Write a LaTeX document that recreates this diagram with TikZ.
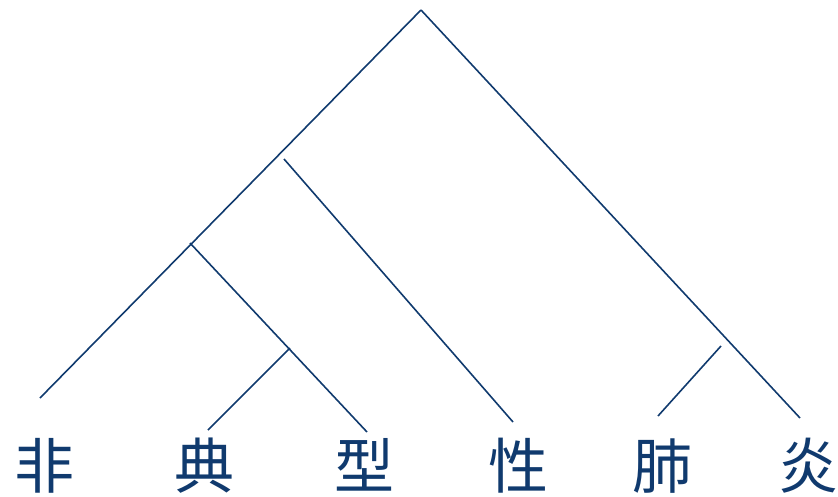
\documentclass[tikz,border=0pt]{standalone}
\usepackage{fontspec}
\newfontfamily\cjk{Noto Sans CJK SC}
\definecolor{treeblue}{RGB}{16,58,110}
\begin{document}
\begin{tikzpicture}[x=1pt,y=-1pt,
  branch/.style={draw=treeblue,line width=1.6pt},
  leaf/.style={text=treeblue,font=\cjk\fontsize{60}{60}\selectfont,inner sep=0pt,anchor=base}]
\useasboundingbox (0,0) rectangle (838,496);
% coordinates
\coordinate (apex) at (421,10);
\coordinate (lend) at (40,398);
\coordinate (rend) at (800,418);
\coordinate (b1s) at (284,159);
\coordinate (b1e) at (513,422);
\coordinate (b2s) at (190,243);
\coordinate (b2e) at (367,432);
\coordinate (b3s) at (290,348);
\coordinate (b3e) at (208,430);
\coordinate (b4s) at (721,346);
\coordinate (b4e) at (658,416);
% branches
\draw[branch] (apex) -- (lend);
\draw[branch] (apex) -- (rend);
\draw[branch] (b1s) -- (b1e);
\draw[branch] (b2s) -- (b2e);
\draw[branch] (b3s) -- (b3e);
\draw[branch] (b4s) -- (b4e);
% leaves
\node[leaf] (c1) at (44,488) {非};
\node[leaf] (c2) at (204,488) {典};
\node[leaf] (c3) at (364,488) {型};
\node[leaf] (c4) at (518,488) {性};
\node[leaf] (c5) at (662,488) {肺};
\node[leaf] (c6) at (808,488) {炎};
\end{tikzpicture}
\end{document}
